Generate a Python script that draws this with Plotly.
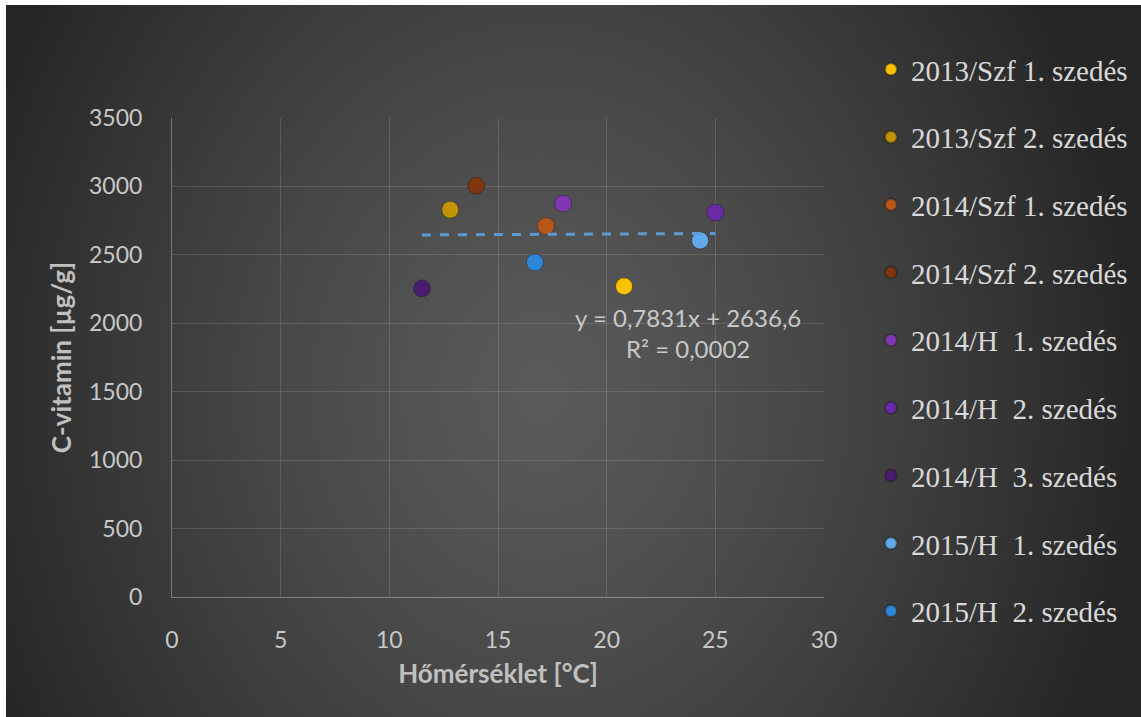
import base64
import struct
import zlib

import numpy as np
import plotly.graph_objects as go

# --- data -------------------------------------------------------------
series_names = [
    "2013/Szf 1. szedés",
    "2013/Szf 2. szedés",
    "2014/Szf 1. szedés",
    "2014/Szf 2. szedés",
    "2014/H  1. szedés",
    "2014/H  2. szedés",
    "2014/H  3. szedés",
    "2015/H  1. szedés",
    "2015/H  2. szedés",
]
temperature_c = [20.8, 12.8, 17.2, 14.0, 18.0, 25.0, 11.5, 24.3, 16.7]
vitamin_c = [2270, 2830, 2710, 3005, 2875, 2810, 2255, 2605, 2445]
series_colors = [
    "#FFC000", "#C29300", "#B8561A", "#7E3510",
    "#8137B3", "#6A2AA8", "#4A1C6E", "#62A9EA", "#2F86D6",
]

trend_slope = 0.7831
trend_intercept = 2636.6
r_squared = "0,0002"

x_ticks = [0, 5, 10, 15, 20, 25, 30]
y_ticks = [0, 500, 1000, 1500, 2000, 2500, 3000, 3500]

# --- page geometry (pixels) ------------------------------------------
W, H = 1141, 717
M_L, M_R, M_T, M_B = 172, 317, 118, 120
BORDER_L, BORDER_T = 6, 5
plot_w = W - M_L - M_R
plot_h = H - M_T - M_B


def png_data_uri(rgb):
    """Encode an HxWx3 uint8 array as a PNG data URI."""
    h, w, _ = rgb.shape
    raw = b"".join(b"\x00" + rgb[i].tobytes() for i in range(h))

    def chunk(tag, data):
        c = struct.pack(">I", len(data)) + tag + data
        return c + struct.pack(">I", zlib.crc32(tag + data) & 0xFFFFFFFF)

    png = b"\x89PNG\r\n\x1a\n"
    png += chunk(b"IHDR", struct.pack(">IIBBBBB", w, h, 8, 2, 0, 0, 0))
    png += chunk(b"IDAT", zlib.compress(raw, 9))
    png += chunk(b"IEND", b"")
    return "data:image/png;base64," + base64.b64encode(png).decode()


# radial charcoal gradient behind the whole chart
scale = 2
gw, gh = (W - BORDER_L) // scale, (H - BORDER_T) // scale
yy, xx = np.mgrid[0:gh, 0:gw].astype(float)
px = xx * scale + BORDER_L
py = yy * scale + BORDER_T
cx, cy, ax, by = 540.0, 390.0, 600.0, 720.0
r = np.sqrt(((px - cx) / ax) ** 2 + ((py - cy) / by) ** 2)
v = 90.0 - 52.0 * np.clip(r, 0, 1) ** 1.3
grad = np.repeat(v[:, :, None], 3, axis=2).astype(np.uint8)
bg_uri = png_data_uri(grad)

fig = go.Figure()

for name, x, y, col in zip(series_names, temperature_c, vitamin_c, series_colors):
    fig.add_trace(go.Scatter(
        x=[x], y=[y], mode="markers", name=name, legendgroup=name,
        marker=dict(size=17, color=col,
                    line=dict(width=1, color="rgba(30,30,30,0.45)")),
    ))

# linear trendline from the fitted equation
x_lo, x_hi = min(temperature_c), max(temperature_c)
fig.add_trace(go.Scatter(
    x=[x_lo, x_hi],
    y=[trend_slope * x_lo + trend_intercept, trend_slope * x_hi + trend_intercept],
    mode="lines", showlegend=False, hoverinfo="skip",
    line=dict(color="#5B9BD5", width=3, dash="dash"),
))

fig.add_annotation(
    x=23.75, y=1930, xref="x", yref="y", showarrow=False, align="center",
    text=f"y = {str(trend_slope).replace('.', ',')}x + {str(trend_intercept).replace('.', ',')}"
         f"<br>R² = {r_squared}",
    font=dict(family="Lato", size=24, color="#C8C8C8"),
)

fig.add_layout_image(dict(
    source=bg_uri, xref="paper", yref="paper",
    x=(BORDER_L - M_L) / plot_w, y=(H - BORDER_T - M_B) / plot_h,
    sizex=(W - BORDER_L) / plot_w, sizey=(H - BORDER_T) / plot_h,
    xanchor="left", yanchor="top", sizing="stretch", layer="below",
))

grid = "rgba(255,255,255,0.13)"
axis_line = "rgba(255,255,255,0.32)"
tick_font = dict(family="Lato", size=23, color="#C8C8C8")
title_font = dict(family="Lato", size=26, color="#C0C0C0", weight="bold")

fig.update_layout(
    width=W, height=H,
    margin=dict(l=M_L, r=M_R, t=M_T, b=M_B, pad=0, autoexpand=False),
    paper_bgcolor="white",
    plot_bgcolor="rgba(0,0,0,0)",
    showlegend=True,
    legend=dict(
        x=(871 - M_L) / plot_w, xanchor="left",
        y=(H - M_B - 44) / plot_h, yanchor="top",
        font=dict(family="Liberation Serif", size=29, color="#D9D9D9"),
        bgcolor="rgba(0,0,0,0)", itemsizing="constant",
        tracegroupgap=27, itemclick=False, maxheight=1.0,
    ),
    xaxis=dict(
        range=[0, 30], tickvals=x_ticks, showgrid=True, gridcolor=grid, gridwidth=1,
        zeroline=False, showline=True, linecolor=axis_line, linewidth=1,
        ticks="", tickfont=tick_font, ticklabelstandoff=22,
        title=dict(text="Hőmérséklet [°C]", font=title_font, standoff=13),
        fixedrange=True,
    ),
    yaxis=dict(
        range=[0, 3500], tickvals=y_ticks, showgrid=True, gridcolor=grid, gridwidth=1,
        zeroline=False, showline=True, linecolor=axis_line, linewidth=1,
        ticks="", tickfont=tick_font, ticklabelstandoff=24,
        title=dict(text="C-vitamin [µg/g]", font=title_font, standoff=9),
        fixedrange=True,
    ),
)

fig.write_html("out.html")
